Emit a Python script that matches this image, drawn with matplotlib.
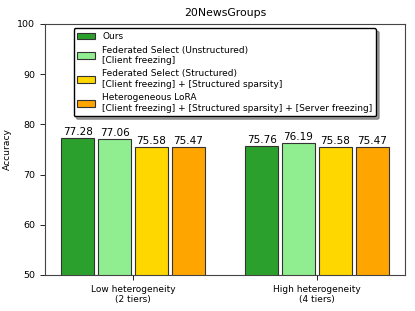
import numpy as np
import matplotlib.pyplot as plt

groups = ['Low heterogeneity\n(2 tiers)', 'High heterogeneity\n(4 tiers)']
methods = ['Ours',
           'Federated Select (Unstructured)\n[Client freezing]',
           'Federated Select (Structured)\n[Client freezing] + [Structured sparsity]',
           'Heterogeneous LoRA\n[Client freezing] + [Structured sparsity] + [Server freezing]']
ours = [77.28, 75.76]
fs_unstruct = [77.06, 76.19]
fs_struct = [75.58, 75.58]
hetlora = [75.47, 75.47]
colors = ['#2ca02c', '#90ee90', '#ffd700', '#ffa500']

fig, ax = plt.subplots(figsize=(4.15, 3.11), dpi=100)

x = np.arange(len(groups))
w = 0.2
for i, (vals, c, lab) in enumerate(zip([ours, fs_unstruct, fs_struct, hetlora], colors, methods)):
    bars = ax.bar(x + (i - 1.5) * w, vals, width=0.18, color=c, edgecolor='#333333',
                  linewidth=0.8, label=lab)
    for b, v in zip(bars, vals):
        ax.text(b.get_x() + b.get_width() / 2, v + 0.2, '%.2f' % v,
                ha='center', va='bottom', fontsize=7.5)

ax.set_ylim(50, 100)
ax.set_xticks(x)
ax.set_xticklabels(groups, fontsize=6.5)
ax.tick_params(axis='y', labelsize=6.8)
ax.tick_params(length=3.5, width=0.6)
for s in ax.spines.values():
    s.set_color('#444444')
ax.set_ylabel('Accuracy', fontsize=6.6)
ax.set_title('20NewsGroups', fontsize=7.8)
ax.legend(loc='upper center', fontsize=6.5, shadow=True, fancybox=True,
          edgecolor='black', framealpha=1)

plt.subplots_adjust(left=0.108, right=0.976, top=0.923, bottom=0.116)
plt.savefig('out.png', dpi=100)
